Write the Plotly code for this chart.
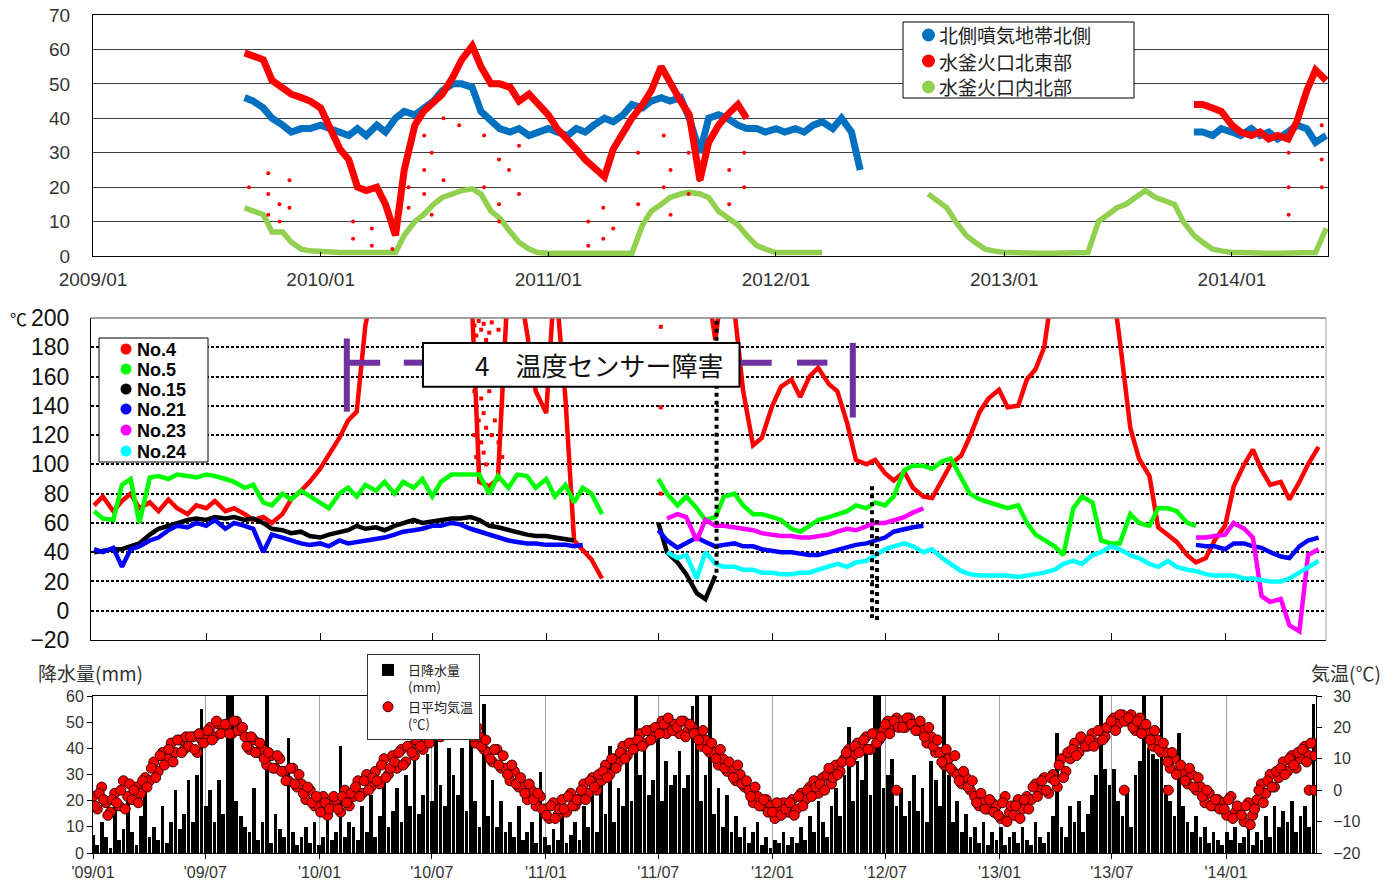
import plotly.graph_objects as go
import pandas as pd

W, H = 1399, 881
OFF = 0  # body margin is removed in the page (see write_html below)
JP = "Noto Sans CJK JP, sans-serif"
LAT = "Liberation Sans, Noto Sans CJK JP, sans-serif"
N = None

# ---------------- top panel: semi-monthly readings ----------------
top_dates = pd.date_range("2009-09-01", "2014-06-01", freq="SMS")
top_names = ["北側噴気地帯北側", "水釜火口北東部", "水釜火口内北部"]
top_colors = ["#0070C0", "#FF0000", "#92D050"]

top_north = [46, 45, 43, 40, 38, 36, 37, 37, 38, 37,
             36, 35, 37, 35, 38, 36, 40, 42, 41, 43,
             45, 48, 50, 50, 49, 42, 39, 37, 36, 37,
             35, 36, 37, 36, 35, 37, 36, 38, 40, 39,
             41, 44, 43, 45, 46, 45, 46, 40, 30, 40,
             41, 40, 38, 37, 37, 36, 37, 36, 37, 36,
             38, 39, 37, 40, 36, 25, N, N, N, N,
             N, N, N, N, N, N, N, N, N, N,
             N, N, N, N, N, N, N, N, N, N,
             N, N, N, N, N, N, N, N, N, N,
             36, 36, 35, 37, 36, 35, 37, 35, 36, 34,
             36, 38, 37, 33, 35]
top_ne = [59, 58, 57, 51, 49, 47, 46, 45, 43, 38,
          31, 28, 20, 19, 20, 15, 6, 25, 38, 42,
          45, 47, 52, 57, 61, 55, 50, 50, 49, 45,
          47, 44, 41, 37, 34, 31, 28, 26, 23, 31,
          36, 40, 44, 48, 55, 50, 45, 41, 22, 33,
          38, 41, 44, 40, N, N, N, N, N, N,
          N, N, N, N, N, N, N, N, N, N,
          N, N, N, N, N, N, N, N, N, N,
          N, N, N, N, N, N, N, N, N, N,
          N, N, N, N, N, N, N, N, N, N,
          44, 44, 43, 42, 38, 36, 35, 36, 34, 35,
          34, 39, 48, 54, 51]
top_inner = [14, 13, 12, 7, 7, 4, 2, 1.5, 1.2, 1.2,
             1, 1, 1, 1, 0.8, 0.8, 1, 6, 10, 12,
             15, 17, 18, 19, 19.5, 18, 13, 11, 7, 4,
             2, 1, 0.8, 0.8, 0.8, 0.8, 0.8, 0.8, 0.8, 0.8,
             0.8, 0.8, 9, 13, 15, 17, 18, 18.5, 18, 17,
             13, 11, 9, 6, 3, 2, 1, 1, 1, 1,
             1, 1, N, N, N, N, N, N, N, N,
             N, N, 18, 16, 14, 10, 6, 4, 2, 1.5,
             1, 1, 0.8, 0.8, 0.8, 0.8, 0.8, 0.8, 0.8, 1,
             10, 12, 14, 15, 17, 19, 17, 16, 15, 10,
             6, 4, 2, 1.5, 1, 1, 0.8, 0.8, 0.8, 0.8,
             0.8, 0.8, 0.8, 1, 8]
# isolated low readings of the north-east crater sensor
top_ne_dot_dates = ["2009-09-08", "2009-10-09", "2009-10-09", "2009-10-09", "2009-10-27", "2009-10-27",
                    "2009-11-12", "2009-11-12", "2010-02-22", "2010-02-22", "2010-03-24", "2010-03-24",
                    "2010-04-26", "2010-05-22", "2010-05-22", "2010-05-22", "2010-06-16", "2010-06-16",
                    "2010-06-16", "2010-06-28", "2010-06-28", "2010-07-17", "2010-07-17", "2010-08-11",
                    "2010-09-20", "2010-09-20", "2010-10-14", "2010-10-14", "2010-10-14", "2010-10-30",
                    "2010-11-15", "2010-11-15", "2011-03-06", "2011-03-06", "2011-03-30", "2011-03-30",
                    "2011-04-15", "2011-05-25", "2011-05-25", "2011-07-05", "2011-07-05", "2011-07-16",
                    "2011-07-16", "2011-08-14", "2011-08-14", "2011-08-31", "2011-09-19", "2011-10-18",
                    "2011-10-18", "2011-11-11", "2011-11-11", "2014-04-02", "2014-04-02", "2014-04-02",
                    "2014-05-25", "2014-05-25", "2014-05-25"]
top_ne_dot_vals = [20, 24, 18, 12, 15, 10,
                   22, 14, 10, 5, 3, 8,
                   2, 20, 30, 14, 25, 18,
                   35, 30, 12, 22, 40, 38,
                   20, 35, 15, 28, 10, 25,
                   18, 32, 10, 3, 5, 14,
                   8, 30, 15, 35, 20, 25,
                   12, 30, 18, 22, 35, 25,
                   15, 30, 20, 30, 20, 12,
                   38, 28, 20]
top_tick_vals = ["2009-01-01", "2010-01-01", "2011-01-01", "2012-01-01", "2013-01-01", "2014-01-01"]
top_tick_text = ["2009/01", "2010/01", "2011/01", "2012/01", "2013/01", "2014/01"]

# ---------------- middle panel: semi-monthly readings ----------------
mid_dates = pd.date_range("2009-01-01", "2014-06-01", freq="SMS")
mid_names = ["No.4", "No.5", "No.15", "No.21", "No.23", "No.24"]
mid_colors = ["#FF0000", "#00FF00", "#000000", "#0000FF", "#FF00FF", "#00FFFF"]

mid_no4 = [72, 78, 68, 75, 80, 70, 74, 68, 76, 70,
           66, 72, 70, 75, 68, 70, 66, 62, 64, 60,
           66, 76, 82, 88, 97, 106, 118, 130, 136, 195,
           230, 230, 230, 230, 230, 230, 230, 230, 230, 230,
           230, 88, 85, 90, 230, 230, 190, 150, 135, 230,
           145, 48, 42, 35, 22, N, N, N, N, N,
           N, N, N, N, N, 230, 185, 230, 205, 150,
           113, 118, 140, 153, 158, 146, 160, 166, 155, 150,
           128, 103, 100, 103, 94, 89, 95, 84, 78, 77,
           89, 100, 106, 119, 136, 145, 151, 139, 140, 158,
           165, 180, 230, 230, 230, 230, 230, 230, 230, 185,
           125, 104, 92, 57, 52, 47, 38, 33, 36, 48,
           58, 85, 100, 110, 96, 86, 88, 76, 88, 100,
           112]
mid_no5 = [68, 63, 62, 86, 90, 60, 91, 92, 90, 93,
           92, 91, 93, 92, 90, 88, 84, 86, 74, 72,
           80, 76, 82, 78, 74, 70, 80, 84, 78, 86,
           82, 88, 80, 88, 84, 90, 78, 88, 93, 93,
           93, 93, 80, 92, 84, 93, 92, 84, 90, 78,
           86, 74, 84, 80, 66, N, N, N, N, N,
           90, 80, 72, 78, 70, 62, 64, 78, 80, 72,
           66, 66, 64, 62, 56, 54, 58, 62, 64, 66,
           68, 72, 70, 74, 72, 78, 96, 99, 99, 97,
           102, 104, 90, 80, 76, 74, 72, 70, 72, 60,
           52, 48, 44, 38, 70, 78, 74, 48, 46, 46,
           66, 60, 58, 70, 70, 68, 60, 58, N, N,
           N, N, N, N, N, N, N, N, N, N,
           N]
mid_no15 = [40, 41, 42, 42, 44, 46, 52, 56, 58, 60,
            62, 63, 62, 64, 63, 64, 62, 63, 60, 56,
            55, 53, 54, 51, 50, 52, 54, 55, 58, 56,
            57, 55, 58, 60, 62, 60, 61, 62, 63, 63,
            64, 62, 58, 57, 55, 54, 52, 51, 51, 50,
            49, 48, N, N, N, N, N, N, N, N,
            60, 40, 33, 25, 12, 8, 24, N, N, N] + [N] * 61
mid_no21 = [42, 40, 43, 30, 42, 44, 48, 50, 55, 58,
            57, 60, 58, 62, 56, 60, 58, 56, 40, 52,
            50, 48, 46, 45, 46, 44, 48, 46, 47, 48,
            49, 50, 52, 54, 55, 56, 58, 58, 60, 59,
            56, 54, 52, 50, 48, 47, 46, 46, 45, 45,
            45, 44, 45, N, N, N, N, N, N, N,
            55, 48, 43, 46, 50, 47, 44, 45, 46, 44,
            44, 42, 41, 40, 40, 39, 38, 38, 40, 42,
            44, 45, 46, 48, 50, 54, 56, 57, 58, N,
            N, N, N, N, N, N, N, N, N, N,
            N, N, N, N, N, N, N, N, N, N,
            N, N, N, N, N, N, N, 45, 44, 44,
            42, 46, 46, 44, 43, 40, 37, 36, 44, 48,
            50]
mid_no23 = [N] * 60 + [N, 63, 66, 64, 48, 62, 58, 58, 57, 56,
                       55, 53, 52, 51, 51, 50, 50, 51, 52, 54,
                       56, 55, 58, 60, 60, 62, 64, 67, 70, N] + [N] * 27 + \
           [50, 50, 51,
            52, 60, 56, 50, 10, 6, 8, -10, -14, 38,
            42]
mid_no24 = [N] * 61 + [40, 36, 38, 22, 40, 32, 30, 30, 28,
                       28, 26, 26, 25, 25, 26, 26, 28, 30, 32,
                       30, 33, 34, 38, 42, 44, 46, 44, 40, 42,
                       36, 32, 27, 25, 24, 24, 24, 24, 23, 24,
                       25, 26, 28, 32, 34, 32, 38, 40, 44, 42,
                       38, 36, 32, 30, 34, 30, 28, 27, 25, 24,
                       24, 24, 22, 22, 21, 20, 20, 22, 26, 30,
                       34]
mid_series = [mid_no4, mid_no5, mid_no15, mid_no21, mid_no23, mid_no24]
# scattered No.4 readings (sensor fault period)
mid_no4_dot_dates = ["2010-09-07", "2010-09-07", "2010-09-07", "2010-09-10", "2010-09-10", "2010-09-10",
                     "2010-09-14", "2010-09-14", "2010-09-14", "2010-09-14", "2010-09-18", "2010-09-18",
                     "2010-09-18", "2010-09-22", "2010-09-22", "2010-09-22", "2010-09-26", "2010-09-26",
                     "2010-09-26", "2010-10-01", "2010-10-01", "2010-10-05", "2010-10-05", "2010-10-10",
                     "2010-10-10", "2010-10-16", "2010-10-16", "2010-10-22", "2010-10-22",
                     "2011-07-05", "2011-07-05", "2011-07-05"]
mid_no4_dot_vals = [195, 150, 120, 188, 140, 105,
                    198, 160, 130, 98, 192, 145,
                    115, 196, 135, 108, 185, 125,
                    100, 190, 150, 197, 120, 180,
                    130, 192, 115, 140, 105,
                    194, 139, 80]
# No.15 spike columns
mid_no15_spike_dates = ["2011-10-03", "2011-10-03", N, "2012-06-10", "2012-06-10", N, "2012-06-18", "2012-06-18"]
mid_no15_spike_vals = [26, 200, N, 85, -5, N, 62, -8]
mid_tick_vals = ["2009-07-01", "2010-01-01", "2010-07-01", "2011-01-01", "2011-07-01",
                 "2012-01-01", "2012-07-01", "2013-01-01", "2013-07-01", "2014-01-01"]

# ---------------- bottom panel: weekly readings ----------------
bot_dates = pd.date_range("2009-01-01", periods=283, freq="7D")
bot_dates_b = pd.date_range("2009-01-04", periods=283, freq="7D")
precip = [7, 3, 12, 6, 2, 18, 5, 9, 20, 8,
          3, 14, 25, 6, 10, 5, 18, 4, 12, 24,
          9, 15, 28, 12, 30, 55, 18, 24, 12, 28,
          15, 68, 65, 20, 14, 10, 8, 25, 5, 12,
          68, 4, 15, 9, 6, 44, 8, 3, 6, 10,
          4, 12, 3, 6, 14, 5, 8, 41, 6, 12,
          10, 5, 18, 8, 22, 6, 14, 28, 10, 16,
          25, 12, 30, 18, 40, 15, 22, 38, 20, 45,
          26, 18, 40, 30, 22, 40, 16, 57, 20, 10,
          57, 14, 28, 10, 20, 8, 12, 6, 18, 5,
          8, 12, 4, 31, 6, 3, 9, 5, 14, 4,
          7, 12, 5, 18, 10, 22, 8, 30, 15, 41,
          12, 25, 18, 35, 20, 68, 30, 40, 22, 28,
          45, 20, 35, 26, 30, 39, 25, 30, 56, 68,
          20, 30, 68, 15, 25, 10, 22, 8, 14, 6,
          10, 4, 8, 12, 3, 6, 2, 5, 4, 8,
          3, 6, 4, 10, 5, 14, 8, 20, 12, 6,
          18, 25, 14, 30, 48, 20, 35, 28, 40, 22,
          68, 68, 25, 30, 36, 18, 25, 14, 20, 30,
          16, 25, 12, 35, 28, 18, 68, 30, 12, 20,
          8, 15, 6, 10, 4, 12, 3, 8, 5, 10,
          3, 6, 8, 4, 10, 5, 3, 12, 6, 4,
          8, 14, 46, 10, 6, 18, 12, 20, 8, 15,
          22, 30, 68, 32, 26, 32, 20, 14, 24, 10,
          30, 35, 68, 40, 38, 36, 68, 26, 20, 14,
          46, 18, 12, 8, 14, 6, 10, 4, 8, 5,
          3, 8, 5, 10, 4, 6, 12, 3, 8, 5,
          14, 6, 18, 10, 16, 12, 20, 8, 14, 18,
          10, 57, 17]
temp = ([-2, -6, 1, -4, -7, -1, -5, 3, -2, -3, 1, -1, 4, 3, 9, 6, 12, 10, 15, 12, 16, 13,
         14, 17, 12, 16, 16, 20, 17, 21, 19, 21, 18, 22, 19, 17, 13, 16, 12, 13, 8, 11, 7, 10,
         6, 3, 7, 1, 2, -3, 0, -5] +
        [-5, -2, -8, -4, -3, -7, 0, -5, -2, 3, -1, 5, 1, 6, 2, 10, 5, 11, 7, 13, 9,
         14, 11, 17, 13, 16, 18, 21, 17, 20, 22, 20, 23, 19, 21, 19, 15, 17, 13, 12, 9, 13, 7,
         7, 3, 6, 1, 1, -3, 0, -5, -2] +
        [-6, -9, -4, -8, -3, -7, -1, -5, -3, 2, -1, 4, 0, 3, 8, 5, 10, 9, 14, 11, 15,
         14, 18, 15, 19, 17, 20, 22, 18, 21, 21, 18, 22, 19, 20, 18, 14, 16, 12, 12, 8, 10, 6,
         7, 3, 5, 1, 0, -4, -2, -5, -3] +
        [-5, -9, -6, -4, -7, -3, -6, -1, -3, 1, 3, -1, 4, 5, 2, 8, 6, 10, 13, 11, 15,
         14, 17, 13, 18, 16, 19, 22, 20, 23, 22, 20, 23, 21, 19, 19, 15, 17, 12, 12, 8, 10, 6,
         5, 2, 4, 0, -2, -5, -3, -6, -4] +
        [-5, -9, -2, -7, -8, -3, -6, -2, -3, 2, 0, 4, -1, 5, 1, 10, 6, 10, 15, 12, 16,
         14, 18, 15, 19, 17, 20, 23, 21, 24, 22, 24, 19, 23, 20, 18, 14, 16, 12, 12, 7, 10, 6,
         6, 2, 5, 0, 1, -4, -1, -5, -3] +
        [-4, -8, -2, -7, -6, -10, -4, -8, -3, 2, -1, 5, 1, 4, 9, 6, 11, 7, 10, 14, 11, 15, 12])
temp_b = ([-5, -1, -3, -8, -3, -4, 0, -6, 2, 0, -4, 3, 1, 7, 4, 11, 8, 13, 9, 16, 12, 17,
           17, 13, 18, 15, 19, 16, 22, 18, 21, 18, 22, 19, 20, 14, 17, 12, 15, 10, 12, 7, 11, 6,
           3, 7, 2, 5, -1, 1, -4, -2] +
          [-7, -4, -6, -2, -6, -2, -4, -1, 1, -2, 3, 0, 4, 3, 8, 4, 7, 9, 12, 8, 14,
           12, 16, 14, 18, 15, 21, 18, 22, 19, 20, 23, 21, 24, 20, 17, 20, 14, 16, 10, 13, 8, 11,
           5, 8, 2, 4, -1, 2, -3, -1, -6] +
          [-8, -5, -9, -6, -6, -2, -5, -3, 0, -3, 3, 1, 5, 6, 4, 10, 7, 12, 10, 15, 13,
           16, 14, 19, 16, 20, 18, 21, 23, 19, 20, 22, 17, 21, 18, 16, 19, 13, 15, 10, 13, 7, 9,
           4, 8, 2, 3, -2, 1, -5, -3, -7] +
          [-7, -4, -8, -6, -4, -8, -2, -5, 0, -2, 1, 2, 0, 7, 4, 5, 9, 12, 9, 14, 12,
           16, 13, 18, 15, 17, 21, 18, 22, 20, 20, 23, 21, 19, 22, 17, 20, 14, 16, 9, 13, 7, 11,
           3, 6, 1, 3, -4, -1, -6, -3, -7] +
          [-8, -4, -10, -5, -5, -9, -3, -6, 1, -2, 3, 0, 4, 3, 8, 4, 12, 13, 11, 17, 14,
           16, 14, 19, 16, 20, 22, 19, 24, 22, 23, 20, 22, 18, 21, 16, 19, 13, 15, 9, 12, 5, 8,
           3, 7, 1, 4, -2, 0, -5, -3, -6] +
          [-6, -3, -9, -5, -8, -5, -11, -6, 0, -4, 3, 1, 6, 7, 5, 10, 8, 12, 13, 9, 15, 11, 13])
temp_zero_dates = ["2012-07-19", "2013-07-21", "2013-09-30", "2014-05-15", "2014-05-24"]
temp_zero_vals = [0, 0, 0, 0, 0]
bot_tick_vals = ["2009-01-01", "2009-07-01", "2010-01-01", "2010-07-01", "2011-01-01", "2011-07-01",
                 "2012-01-01", "2012-07-01", "2013-01-01", "2013-07-01", "2014-01-01"]
bot_tick_text = ["'09/01", "'09/07", "'10/01", "'10/07", "'11/01", "'11/07",
                 "'12/01", "'12/07", "'13/01", "'13/07", "'14/01"]


def fx(p):
    return (p - OFF) / W


def fy(p):
    return 1 - (p - OFF) / H


fig = go.Figure()

# ---- top traces ----
for name, vals, col, w in zip(top_names, [top_north, top_ne, top_inner], top_colors, [7, 7, 5.5]):
    fig.add_trace(go.Scatter(x=top_dates, y=vals, mode="lines", name=name, line=dict(color=col, width=w),
                             xaxis="x", yaxis="y", showlegend=False, hoverinfo="skip"))
fig.add_trace(go.Scatter(x=top_ne_dot_dates, y=top_ne_dot_vals, mode="markers", name=top_names[1],
                         marker=dict(color="#FF0000", size=4), xaxis="x", yaxis="y",
                         showlegend=False, hoverinfo="skip"))

# ---- middle traces ----
for name, vals, col in zip(mid_names, mid_series, mid_colors):
    fig.add_trace(go.Scatter(x=mid_dates, y=vals, mode="lines", name=name, line=dict(color=col, width=4.5),
                             xaxis="x2", yaxis="y2", showlegend=False, hoverinfo="skip"))
fig.add_trace(go.Scatter(x=mid_no4_dot_dates, y=mid_no4_dot_vals, mode="markers", name="No.4",
                         marker=dict(color="#FF0000", size=4, symbol="square"), xaxis="x2", yaxis="y2",
                         showlegend=False, hoverinfo="skip"))
fig.add_trace(go.Scatter(x=mid_no15_spike_dates, y=mid_no15_spike_vals, mode="lines", name="No.15",
                         line=dict(color="#000000", width=4, dash="dot"), xaxis="x2", yaxis="y2",
                         showlegend=False, hoverinfo="skip"))

# ---- bottom traces ----
temp_marker = dict(color="#FF0000", size=10, line=dict(color="#3A0000", width=1))
fig.add_trace(go.Bar(x=bot_dates, y=precip, name="日降水量<br>(mm)",
                     marker=dict(color="#000000", line=dict(width=0)),
                     width=6 * 86400000, xaxis="x3", yaxis="y3", legend="legend3"))
fig.add_trace(go.Scatter(x=bot_dates, y=temp, mode="markers", name="日平均気温<br>(℃)",
                         marker=temp_marker, xaxis="x3", yaxis="y4", legend="legend3"))
fig.add_trace(go.Scatter(x=bot_dates_b, y=temp_b, mode="markers", marker=temp_marker,
                         xaxis="x3", yaxis="y4", showlegend=False))
fig.add_trace(go.Scatter(x=temp_zero_dates, y=temp_zero_vals, mode="markers", marker=temp_marker,
                         xaxis="x3", yaxis="y4", showlegend=False))

# ---- legend boxes for the top and middle panels (drawn as shapes + text) ----
shapes = [
    # middle panel: grey top and right edge
    dict(type="line", xref="x2 domain", yref="y2 domain", x0=0, x1=1, y0=1, y1=1,
         line=dict(color="#808080", width=1.5), layer="above"),
    dict(type="line", xref="x2 domain", yref="y2 domain", x0=1, x1=1, y0=0, y1=1,
         line=dict(color="#A0A0A0", width=1), layer="above"),
    # sensor fault bracket
    dict(type="line", xref="x2", yref="y2", x0="2010-02-13", x1="2010-02-13", y0=136, y1=186,
         line=dict(color="#7030A0", width=6)),
    dict(type="line", xref="x2", yref="y2", x0="2010-02-13", x1="2010-04-08", y0=169.5, y1=169.5,
         line=dict(color="#7030A0", width=6)),
    dict(type="line", xref="x2", yref="y2", x0="2010-05-16", x1="2010-06-16", y0=169.5, y1=169.5,
         line=dict(color="#7030A0", width=6)),
    dict(type="line", xref="x2", yref="y2", x0="2011-11-09", x1="2011-12-31", y0=169.5, y1=169.5,
         line=dict(color="#7030A0", width=6)),
    dict(type="line", xref="x2", yref="y2", x0="2012-02-10", x1="2012-03-30", y0=169.5, y1=169.5,
         line=dict(color="#7030A0", width=6)),
    dict(type="line", xref="x2", yref="y2", x0="2012-05-10", x1="2012-05-10", y0=132, y1=183,
         line=dict(color="#7030A0", width=6)),
    dict(type="rect", xref="x2", yref="y2", x0="2010-06-16", x1="2011-11-09", y0=153, y1=183,
         fillcolor="white", line=dict(color="black", width=2)),
    # legend frames
    dict(type="rect", xref="paper", yref="paper", x0=fx(903), x1=fx(1134), y0=fy(98), y1=fy(22),
         fillcolor="white", line=dict(color="black", width=1)),
    dict(type="rect", xref="paper", yref="paper", x0=fx(99), x1=fx(208), y0=fy(462), y1=fy(338),
         fillcolor="white", line=dict(color="black", width=1)),
]
annotations = [
    dict(text="4　温度センサー障害", xref="x2", yref="y2", x="2011-03-27", y=168,
         showarrow=False, font=dict(family=JP, size=26, color="#111111"),
         xanchor="center", yanchor="middle"),
    dict(text="℃", xref="paper", yref="paper", x=fx(8), y=fy(304), showarrow=False,
         xanchor="left", yanchor="top", font=dict(family=JP, size=17, color="#111111")),
    dict(text="降水量(mm)", xref="paper", yref="paper", x=fx(36), y=fy(672), showarrow=False,
         xanchor="left", yanchor="middle", font=dict(family=JP, size=19, color="#333333")),
    dict(text="気温(℃)", xref="paper", yref="paper", x=fx(1383), y=fy(672), showarrow=False,
         xanchor="right", yanchor="middle", font=dict(family=JP, size=19, color="#333333")),
]
for name, col, row in zip(top_names, top_colors, [35, 61, 87]):
    shapes.append(dict(type="circle", xref="paper", yref="paper", x0=fx(922), x1=fx(935),
                       y0=fy(row + 6.5), y1=fy(row - 6.5), fillcolor=col, line=dict(width=0)))
    annotations.append(dict(text=name, xref="paper", yref="paper", x=fx(937), y=fy(row), showarrow=False,
                            xanchor="left", yanchor="middle", font=dict(family=JP, size=19, color="#222222")))
for name, col, row in zip(mid_names, mid_colors, [349, 369, 389, 409, 430, 451]):
    shapes.append(dict(type="circle", xref="paper", yref="paper", x0=fx(120.5), x1=fx(131.5),
                       y0=fy(row + 5.5), y1=fy(row - 5.5), fillcolor=col, line=dict(width=0)))
    annotations.append(dict(text=name, xref="paper", yref="paper", x=fx(135), y=fy(row + 1), showarrow=False,
                            xanchor="left", yanchor="middle",
                            font=dict(family=LAT, size=18, color="#000000", weight="bold")))

axis_common = dict(zeroline=False, showline=True, linecolor="black", linewidth=1, automargin=False,
                   ticklabeloverflow="allow")

fig.update_layout(
    width=W, height=H, margin=dict(l=0, r=0, t=0, b=0, autoexpand=False),
    paper_bgcolor="white", plot_bgcolor="white",
    font=dict(family=LAT, color="#333333", size=16),
    bargap=0,
    xaxis=dict(domain=[fx(93), fx(1328)], anchor="y", type="date", range=["2009-01-01", "2014-06-04"],
               tickmode="array", tickvals=top_tick_vals, ticktext=top_tick_text, ticks="inside",
               ticklen=4, tickcolor="black", showgrid=False, mirror=True,
               tickfont=dict(size=19, color="#333333"), ticklabelstandoff=6, **axis_common),
    yaxis=dict(domain=[fy(256), fy(15)], anchor="x", range=[0, 70], dtick=10, showgrid=True,
               gridcolor="#404040", gridwidth=1, mirror=True, ticks="",
               tickfont=dict(size=19, color="#333333"), ticklabelstandoff=18, **axis_common),
    xaxis2=dict(domain=[fx(91), fx(1326)], anchor="y2", type="date", range=["2008-12-27", "2014-06-13"],
                tickmode="array", tickvals=mid_tick_vals, showticklabels=False, ticks="inside",
                ticklen=7, tickcolor="black", showgrid=False, **axis_common),
    yaxis2=dict(domain=[fy(640), fy(318)], anchor="x2", range=[-20, 200], dtick=20, showgrid=True,
                gridcolor="#000000", gridwidth=1.5, griddash="3px,2px", ticks="",
                tickfont=dict(size=23, color="#111111"), ticklabelstandoff=16, **axis_common),
    xaxis3=dict(domain=[fx(93), fx(1316)], anchor="y3", type="date", range=["2009-01-01", "2014-05-26"],
                tickmode="array", tickvals=bot_tick_vals, ticktext=bot_tick_text, ticks="outside",
                ticklen=5, tickcolor="black", showgrid=True, gridcolor="#A6A6A6", gridwidth=1,
                mirror=True, tickfont=dict(size=16, color="#333333"), **axis_common),
    yaxis3=dict(domain=[fy(853), fy(696)], anchor="x3", range=[0, 60], dtick=10, showgrid=False,
                ticks="outside", ticklen=5, tickcolor="black", mirror=True,
                tickfont=dict(size=16, color="#333333"), **axis_common),
    yaxis4=dict(overlaying="y3", anchor="x3", side="right", range=[-20, 30], dtick=10, showgrid=False,
                ticks="outside", ticklen=5, tickcolor="black", tickfont=dict(size=16, color="#333333"),
                ticklabelstandoff=8, **axis_common),
    legend3=dict(x=fx(367), y=fy(654), xanchor="left", yanchor="top", bgcolor="white",
                 bordercolor="#333333", borderwidth=1, font=dict(family=JP, size=13, color="#222222"),
                 itemwidth=30, valign="top", tracegroupgap=0),
    shapes=shapes,
    annotations=annotations,
)

fig.write_html("out.html", config={"displayModeBar": False},
               post_script="document.body.style.margin='0px';")
